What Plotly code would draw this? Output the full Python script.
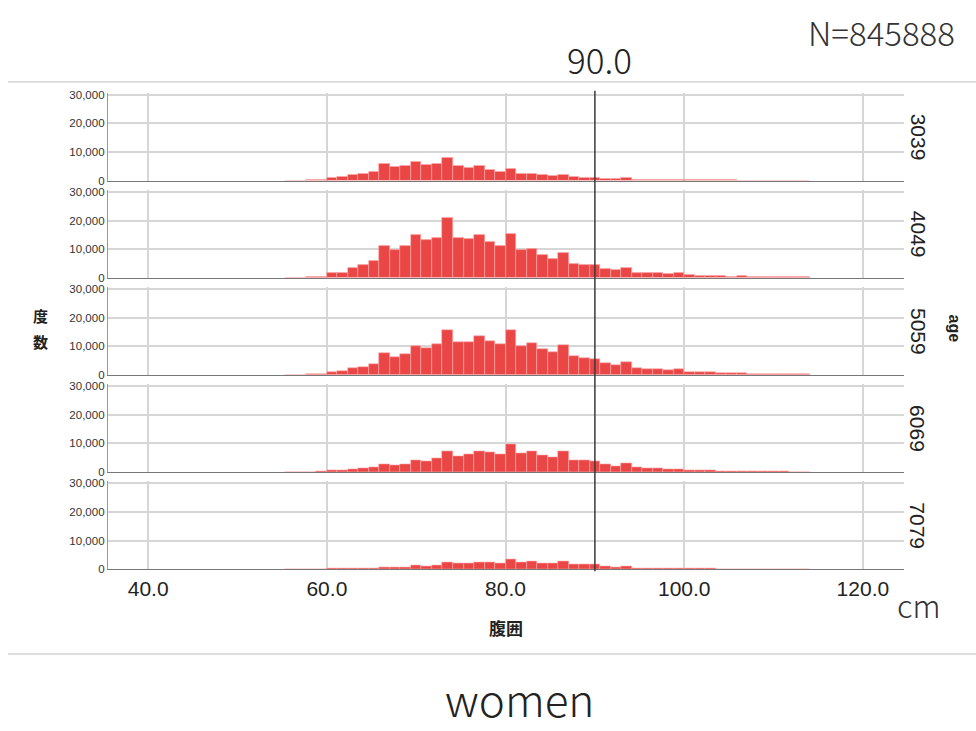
import plotly.graph_objects as go

# ---------------- data ----------------
age_groups = ["3039", "4049", "5059", "6069", "7079"]

bin_width = 20 / 17           # SPSS histogram bin width (cm)
first_edge = 60 - 4 * bin_width

counts_3039 = [20, 50, 120, 250,
               900, 1150, 2070, 2400, 3100, 5750, 4830, 5170, 6670, 5400,
               5750, 7930, 5060, 4480, 5060, 3800, 3200, 4250, 2530, 2530,
               1950, 1500, 1950, 1150, 1030, 900, 570, 570, 800, 350,
               300, 300, 250, 350, 200, 200, 150, 120, 120, 100, 80, 70, 60, 50, 40, 30]
counts_4049 = [40, 80, 200, 400,
               1500, 1840, 3450, 4480, 5860, 11260, 9890, 11030, 14830, 13220,
               14020, 20800, 13900, 13560, 15060, 12640, 11150, 15170, 9660, 10000,
               7820, 6670, 8500, 4940, 4600, 4370, 3000, 2640, 3450, 1840,
               1610, 1610, 1200, 1610, 800, 690, 690, 460, 345, 460, 345, 250, 250, 250, 200, 200]
counts_5059 = [40, 80, 200, 400,
               1030, 1260, 2300, 2870, 3680, 7470, 6320, 7240, 10110, 9200,
               10690, 15630, 11380, 11610, 13450, 11950, 10690, 15520, 10230, 11150,
               8970, 7820, 10460, 6550, 5860, 5400, 4020, 3450, 4370, 2530,
               1950, 2180, 1610, 1950, 1030, 1030, 1030, 690, 575, 690, 345, 230, 230, 200, 200, 150]
counts_6069 = [20, 40, 100, 200,
               460, 575, 920, 1150, 1500, 2870, 2410, 2870, 4140, 3790,
               4710, 7360, 5400, 6090, 7130, 6780, 6210, 9660, 6440, 7130,
               5980, 5290, 7130, 4250, 4020, 3790, 2760, 2180, 3100, 1500,
               1150, 1150, 800, 1030, 460, 460, 460, 300, 300, 300, 250, 200, 150, 120, 100, 80]
counts_7079 = [10, 20, 40, 60,
               115, 115, 345, 345, 345, 690, 575, 690, 1150, 1030,
               1380, 2410, 1950, 1950, 2530, 2410, 2070, 3450, 2530, 2760,
               2180, 2070, 2760, 1610, 1500, 1610, 800, 690, 1030, 345,
               250, 250, 250, 250, 150, 150, 120, 100, 80, 60, 50, 40, 30, 30, 20, 20]
all_counts = [counts_3039, counts_4049, counts_5059, counts_6069, counts_7079]

x_ticks = [40, 60, 80, 100, 120]
y_ticks = [0, 10000, 20000, 30000]
cutoff = 90.0
total_n = "N=845888"

# ---------------- layout geometry ----------------
W, H = 976, 731
def py(p):
    return 1 - p / H

panel_tops = [90, 188.5, 287, 385.5, 484]
panel_h = 89
x_dom = [108 / W, 904 / W]
x_range = [35.5, 124.6]
y_range = [0, 30700]

fig = go.Figure()
bar_color = "rgb(234,70,70)"

for i, counts in enumerate(all_counts):
    centers = [first_edge + (k + 0.5) * bin_width for k in range(len(counts))]
    suffix = "" if i == 0 else str(i + 1)
    fig.add_trace(go.Bar(
        x=centers, y=counts, width=bin_width,
        marker=dict(color=bar_color, line=dict(color="rgba(255,170,170,1)", width=0.6)),
        xaxis="x" + suffix, yaxis="y" + suffix, showlegend=False,
        hoverinfo="x+y",
    ))
    top = panel_tops[i]
    bottom = top + panel_h
    last = (i == len(all_counts) - 1)
    fig.layout["xaxis" + suffix] = dict(
        domain=x_dom, range=x_range, anchor="y" + suffix,
        tickvals=x_ticks, ticktext=[f"{v:.1f}" for v in x_ticks],
        showticklabels=last, ticks="",
        tickfont=dict(family="Liberation Sans, Arial", size=21, color="#222"),
        showgrid=True, gridcolor="#d6d6d6", gridwidth=1.5,
        showline=True, linecolor="#777", linewidth=1.3,
        zeroline=False, fixedrange=True,
    )
    fig.layout["yaxis" + suffix] = dict(
        domain=[py(bottom), py(top)], range=y_range, anchor="x" + suffix,
        tickvals=y_ticks, tickformat=",d",
        tickfont=dict(family="Liberation Sans, Arial", size=11.5, color="#333"),
        showgrid=True, gridcolor="#d6d6d6", gridwidth=1.5,
        showline=True, linecolor="#999", linewidth=1.3,
        zeroline=False, ticks="", fixedrange=True,
    )
    # age group label
    fig.add_annotation(
        x=918 / W, y=py(top + panel_h / 2), xref="paper", yref="paper",
        xanchor="center", yanchor="middle",
        text=age_groups[i], textangle=90, showarrow=False,
        font=dict(family="Liberation Sans, Arial", size=21, color="#222"),
    )

# vertical cutoff line at 90 cm
fig.add_shape(type="line", xref="x5", yref="paper", x0=cutoff, x1=cutoff,
              y0=py(575), y1=py(88), line=dict(color="#3a3a3a", width=1.5))

# separating rules
for ypx in (79, 659):
    fig.add_shape(type="line", xref="paper", yref="paper", x0=8 / W, x1=1,
                  y0=py(ypx), y1=py(ypx), line=dict(color="#bdbdbd", width=1))

title_font = "Noto Sans CJK JP, Noto Sans, sans-serif"
def note(xp, yp, text, size, family=title_font, color="#222", angle=0, weight="normal"):
    fig.add_annotation(x=xp / W, y=py(yp), xref="paper", yref="paper",
                       xanchor="center", yanchor="middle", textangle=angle,
                       text=text, showarrow=False,
                       font=dict(family=family, size=size, color=color, weight=weight))

note(881, 28, total_n, 33, color="#333", weight=300)
note(599, 55, f"{cutoff:.1f}", 35, weight=300)
note(919, 609, "cm", 31, color="#333", weight=300)
note(519, 704, "women", 44, weight=300)
note(506, 632, "<b>腹囲</b>", 17, family="Noto Sans CJK JP")
# y-axis title, written vertically one character per line
note(40, 316, "<b>度</b>", 15, family="Noto Sans CJK JP")
note(40, 342, "<b>数</b>", 15, family="Noto Sans CJK JP")
note(955, 329, "<b>age</b>", 16, family="Liberation Sans, Arial", angle=90)

fig.update_layout(
    width=W, height=H, autosize=False,
    margin=dict(l=0, r=0, t=0, b=0),
    paper_bgcolor="white", plot_bgcolor="white",
    bargap=0, showlegend=False,
)

fig.write_html(
    "out.html",
    config={"displayModeBar": False},
    post_script=(
        "document.documentElement.style.margin='0';"
        "document.documentElement.style.overflow='hidden';"
        "document.body.style.margin='0';"
        "document.body.style.overflow='hidden';"
    ),
)
